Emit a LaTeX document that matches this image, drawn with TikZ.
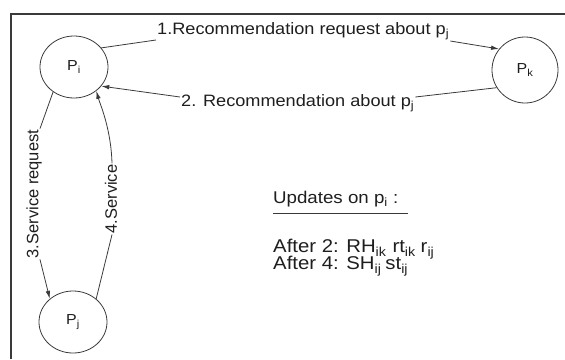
\documentclass[tikz,border=0pt]{standalone}
\usepackage{fontspec}
\setmainfont{Liberation Sans}
\newfontfamily\widefont[FakeStretch=1.1]{Liberation Sans}
\usetikzlibrary{shapes.geometric,arrows.meta}
\definecolor{ln}{HTML}{3A3A3A}
\definecolor{tx}{HTML}{1E1E1E}
\tikzset{
  peer/.style={ellipse,draw=ln,line width=0.8pt,inner sep=0pt,minimum width=68pt,minimum height=62pt,text=tx,font=\widefont\fontsize{14.5}{17}\selectfont},
  elabel/.style={inner sep=0pt,text=tx,font=\widefont\fontsize{16.5}{19}\selectfont},
  vlabel/.style={inner sep=0pt,text=tx,rotate=90,font=\fontsize{16.5}{19}\selectfont},
  infotext/.style={inner sep=0pt,anchor=west,text=tx,font=\widefont\fontsize{18.5}{21}\selectfont},
  conn/.style={draw=ln,line width=0.8pt},
  arr/.style={conn,-{Latex[length=8pt,width=4.5pt]}},
}
\begin{document}
\begin{tikzpicture}[x=1pt,y=-1pt]
\useasboundingbox (0,0) rectangle (565,359);
\draw[ln,line width=1.3pt] (11,359) -- (11,14) -- (565,14);

\node[peer] (Pi) at (74,67) {P\textsubscript{i}};
\node[peer,minimum width=66pt,minimum height=66pt] (Pk) at (525,70) {P\textsubscript{k}};
\node[peer] (Pj) at (73,322) {P\textsubscript{j}};

\node[elabel,anchor=west] (l1) at (157,31) {1.Recommendation request about p\textsubscript{j}};
\node[elabel,anchor=west] (l2) at (181,103) {2. Recommendation about p\textsubscript{j}};
\node[vlabel] (l3) at (34,194) {3.Service request};
\node[vlabel] (l4) at (111,199) {4.Service};

\node[infotext,font=\widefont\fontsize{17}{20}\selectfont] (upd) at (273,199) {Updates on p\textsubscript{i} :};
\draw[conn] (273,213) coordinate (u1) -- (408,213) coordinate (u2);
\node[infotext] (a2) at (273,249) {After 2: RH\textsubscript{ik}\hspace{6pt}rt\textsubscript{ik}\hspace{5pt}r\textsubscript{ij}};
\node[infotext] (a4) at (273,266) {After 4: SH\textsubscript{ij}\hspace{4pt}st\textsubscript{ij}};

\draw[conn] (Pi.35) -- ([xshift=-1pt,yshift=-9pt]l1.west);
\draw[arr] ([xshift=1pt,yshift=-10pt]l1.east) -- (Pk.141);
\draw[conn] (Pk.212) -- ([xshift=1pt,yshift=6pt]l2.east);
\draw[arr] ([xshift=-1pt,yshift=6pt]l2.west) -- (Pi.-35);
\draw[conn] (Pi.-130) -- ([xshift=6pt,yshift=1pt]l3.east);
\draw[arr] ([xshift=6pt,yshift=-1pt]l3.west) -- (Pj.135);
\draw[conn] (Pj.45) -- ([xshift=1pt,yshift=-1pt]l4.west);
\draw[arr] ([xshift=1pt,yshift=1pt]l4.east) .. controls +(-1,-35) and +(4,14) .. (Pi.-47);
\end{tikzpicture}
\end{document}
